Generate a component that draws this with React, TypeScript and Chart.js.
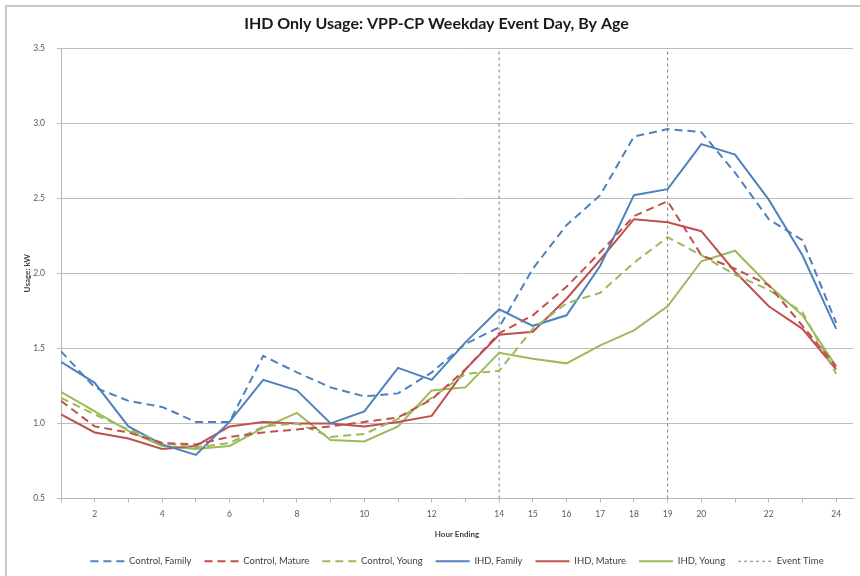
import React, { useEffect, useRef } from "react";
import { Chart, registerables } from "chart.js";

Chart.register(...registerables);

const chartTitle = "IHD Only Usage: VPP-CP Weekday Event Day, By Age";
const xAxisTitle = "Hour Ending";
const yAxisTitle = "Usage: kW";

const hours = [1, 2, 3, 4, 5, 6, 7, 8, 9, 10, 11, 12, 13, 14, 15, 16, 17, 18, 19, 20, 21, 22, 23, 24];
const xTickLabels = [2, 4, 6, 8, 10, 12, 14, 15, 16, 17, 18, 19, 20, 22, 24];
const yMin = 0.5;
const yMax = 3.5;
const yStep = 0.5;

const controlFamily = [1.48, 1.24, 1.15, 1.11, 1.01, 1.01, 1.45, 1.34, 1.24, 1.18, 1.2, 1.34, 1.53, 1.64, 2.03, 2.32, 2.52, 2.91, 2.96, 2.94, 2.67, 2.36, 2.22, 1.67];
const controlMature = [1.15, 0.98, 0.94, 0.87, 0.86, 0.91, 0.94, 0.96, 0.98, 1.01, 1.04, 1.16, 1.36, 1.6, 1.72, 1.91, 2.14, 2.38, 2.48, 2.12, 2.03, 1.92, 1.65, 1.38];
const controlYoung = [1.17, 1.06, 0.96, 0.87, 0.84, 0.87, 0.98, 1.0, 0.91, 0.93, 1.03, 1.17, 1.33, 1.35, 1.63, 1.8, 1.87, 2.07, 2.24, 2.12, 1.99, 1.89, 1.74, 1.33];
const ihdFamily = [1.41, 1.27, 0.98, 0.86, 0.79, 1.01, 1.29, 1.22, 1.0, 1.08, 1.37, 1.29, 1.54, 1.76, 1.65, 1.72, 2.05, 2.52, 2.56, 2.86, 2.79, 2.49, 2.12, 1.63];
const ihdMature = [1.06, 0.94, 0.9, 0.83, 0.85, 0.98, 1.01, 1.0, 1.0, 0.98, 1.01, 1.05, 1.36, 1.59, 1.61, 1.83, 2.09, 2.36, 2.34, 2.28, 2.01, 1.78, 1.63, 1.36];
const ihdYoung = [1.21, 1.08, 0.95, 0.85, 0.83, 0.85, 0.97, 1.07, 0.89, 0.88, 0.98, 1.22, 1.24, 1.47, 1.43, 1.4, 1.52, 1.62, 1.78, 2.08, 2.15, 1.92, 1.72, 1.38];
const eventHours = [14, 19];

const BLUE = "#4F81BD";
const RED = "#C0504D";
const GREEN = "#9BBB59";
const GRAY = "#808080";
const FONT = "Lato, 'DejaVu Sans', sans-serif";

const toPoints = (vals: number[]) => hours.map((h, i) => ({ x: h, y: vals[i] }));

export default function App() {
  const canvasRef = useRef<HTMLCanvasElement | null>(null);

  useEffect(() => {
    const canvas = canvasRef.current;
    if (!canvas) return;
    const dash = [8, 5];
    const series = [
      { label: "Control, Family", data: toPoints(controlFamily), borderColor: BLUE, borderDash: dash },
      { label: "Control, Mature", data: toPoints(controlMature), borderColor: RED, borderDash: dash },
      { label: "Control, Young", data: toPoints(controlYoung), borderColor: GREEN, borderDash: dash },
      { label: "IHD, Family", data: toPoints(ihdFamily), borderColor: BLUE, borderDash: [] },
      { label: "IHD, Mature", data: toPoints(ihdMature), borderColor: RED, borderDash: [] },
      { label: "IHD, Young", data: toPoints(ihdYoung), borderColor: GREEN, borderDash: [] },
    ].map((d) => ({ ...d, backgroundColor: d.borderColor, borderWidth: 2, pointRadius: 0, tension: 0, fill: false }));

    const eventData: any[] = [];
    eventHours.forEach((h) => {
      eventData.push({ x: h, y: yMin }, { x: h, y: yMax }, { x: h, y: null });
    });

    const defaultLabels = (Chart as any).defaults.plugins.legend.labels.generateLabels;

    const chart = new Chart(canvas, {
      type: "line",
      data: {
        datasets: [
          ...series,
          {
            label: "Event Time",
            data: eventData,
            borderColor: GRAY,
            backgroundColor: GRAY,
            borderWidth: 1,
            borderDash: [3, 3],
            pointRadius: 0,
            spanGaps: false,
            fill: false,
          },
        ] as any,
      },
      options: {
        animation: false,
        responsive: false,
        devicePixelRatio: 1,
        layout: { padding: { left: 20, right: 7, top: 0, bottom: 0 } },
        plugins: {
          title: {
            display: true,
            text: chartTitle,
            color: "#1a1a1a",
            font: { family: FONT, size: 16, weight: "bold" },
            padding: { top: 14, bottom: 14.8 },
          },
          legend: {
            position: "bottom",
            fullSize: false,
            labels: {
              usePointStyle: true,
              pointStyle: "line",
              pointStyleWidth: 34,
              padding: 13,
              color: "#404040",
              font: { family: FONT, size: 9.5 },
              generateLabels: (c: any) =>
                defaultLabels(c).map((l: any) => {
                  const ds = c.data.datasets[l.datasetIndex];
                  return { ...l, lineDash: ds.borderDash, lineWidth: ds.borderWidth, strokeStyle: ds.borderColor };
                }),
            },
          },
          tooltip: { enabled: false },
        },
        scales: {
          x: {
            type: "linear",
            min: hours[0],
            max: hours[hours.length - 1] + 0.5,
            afterBuildTicks: (scale: any) => {
              scale.ticks = hours.map((h) => ({ value: h }));
            },
            afterFit: (scale: any) => {
              scale.height = 45;
            },
            ticks: {
              autoSkip: false,
              maxRotation: 0,
              padding: 7,
              color: "#595959",
              font: { family: FONT, size: 8.5 },
              callback: (v: any) => (xTickLabels.includes(Number(v)) ? String(v) : ""),
            },
            grid: { drawOnChartArea: false, drawTicks: true, tickLength: 4, color: "#b5b5b5" },
            border: { color: "#b5b5b5", width: 1 },
            title: {
              display: true,
              text: xAxisTitle,
              color: "#404040",
              font: { family: FONT, size: 8, weight: "bold" },
              padding: { top: 0, bottom: 4 },
            },
          },
          y: {
            min: yMin,
            max: yMax,
            afterFit: (scale: any) => {
              scale.width = 41;
            },
            ticks: {
              stepSize: yStep,
              padding: 12,
              color: "#595959",
              font: { family: FONT, size: 8.5 },
              callback: (v: any) => Number(v).toFixed(1),
            },
            grid: { color: "#bdbdbd", lineWidth: 1, tickLength: 4 },
            border: { color: "#b5b5b5", width: 1 },
            title: {
              display: true,
              text: yAxisTitle,
              color: "#404040",
              font: { family: FONT, size: 8, weight: "bold" },
              padding: { top: 3, bottom: 0 },
            },
          },
        },
      },
    });
    return () => chart.destroy();
  }, []);

  return (
    <div style={{ position: "fixed", left: 0, top: 0, width: 860, height: 576, overflow: "hidden", background: "#fff" }}>
      <div
        style={{
          position: "absolute",
          left: 5,
          top: 5,
          width: 900,
          height: 620,
          borderLeft: "2px solid #c8c8c8",
          borderTop: "2px solid #c8c8c8",
        }}
      />
      <canvas ref={canvasRef} width={860} height={576} style={{ position: "absolute", left: 0, top: 0, width: 860, height: 576 }} />
    </div>
  );
}
